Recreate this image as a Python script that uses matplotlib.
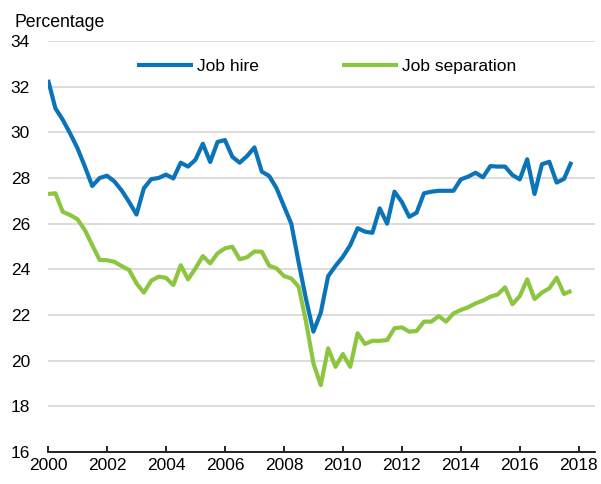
import numpy as np
import matplotlib
matplotlib.use("Agg")
import matplotlib.pyplot as plt

plt.rcParams['font.family'] = ['Liberation Sans', 'DejaVu Sans']

# Quarterly data, 2000Q1 - 2017Q4
quarters = np.arange(2000, 2018, 0.25)

job_hire = [32.3, 31.05, 30.55, 29.95, 29.3, 28.5, 27.65, 28.0, 28.1, 27.85,
            27.45, 26.95, 26.4, 27.55, 27.95, 28.0, 28.15, 27.98, 28.67, 28.5,
            28.8, 29.5, 28.7, 29.58, 29.66, 28.93, 28.67, 28.96, 29.34, 28.28,
            28.09, 27.55, 26.77, 26.0, 24.3, 22.7, 21.27, 22.1, 23.7, 24.15,
            24.55, 25.06, 25.8, 25.65, 25.6, 26.67, 26.0, 27.4, 26.95, 26.3,
            26.48, 27.33, 27.4, 27.44, 27.44, 27.44, 27.94, 28.06, 28.23, 28.03,
            28.52, 28.5, 28.5, 28.13, 27.94, 28.82, 27.3, 28.6, 28.71, 27.8,
            27.96, 28.71]

job_separation = [27.3, 27.33, 26.52, 26.38, 26.19, 25.72, 25.06, 24.41, 24.4, 24.33,
                  24.14, 23.97, 23.39, 22.98, 23.5, 23.68, 23.63, 23.31, 24.18, 23.56,
                  24.04, 24.58, 24.26, 24.7, 24.92, 24.99, 24.44, 24.53, 24.78, 24.77,
                  24.16, 24.04, 23.71, 23.6, 23.24, 21.71, 19.88, 18.93, 20.54, 19.73,
                  20.29, 19.73, 21.2, 20.73, 20.87, 20.87, 20.9, 21.42, 21.46, 21.27,
                  21.3, 21.71, 21.71, 21.95, 21.71, 22.07, 22.22, 22.34, 22.51, 22.63,
                  22.8, 22.9, 23.21, 22.47, 22.83, 23.56, 22.7, 22.98, 23.17, 23.63,
                  22.92, 23.06]

year_ticks = [2000, 2002, 2004, 2006, 2008, 2010, 2012, 2014, 2016, 2018]
y_ticks = [16, 18, 20, 22, 24, 26, 28, 30, 32, 34]

fig = plt.figure(figsize=(6.01, 4.84), dpi=100)
ax = fig.add_axes([0.0799, 0.0661, 0.9101, 0.8492])

ax.plot(quarters, job_hire, color='#0b74b8', lw=3.0, label='Job hire',
        solid_joinstyle='round', solid_capstyle='butt')
ax.plot(quarters, job_separation, color='#8cc641', lw=3.0, label='Job separation',
        solid_joinstyle='round', solid_capstyle='butt')

ax.set_xlim(2000, 2018.55)
ax.set_ylim(16, 34)
ax.set_xticks(year_ticks)
ax.set_yticks(y_ticks)
ax.grid(axis='y', color='#d9d9d9', lw=1.3)
ax.set_axisbelow(True)

for s in ['top', 'right', 'left']:
    ax.spines[s].set_visible(False)
ax.spines['bottom'].set_color('black')
ax.spines['bottom'].set_linewidth(1.2)

ax.tick_params(axis='x', direction='in', length=4.5, width=1.2, labelsize=12.5, pad=4)
ax.tick_params(axis='y', length=0, labelsize=12.5, pad=13)

ax.legend(loc='upper center', bbox_to_anchor=(0.51, 0.995), ncol=2, frameon=False,
          fontsize=12.5, handlelength=3.2, handletextpad=0.25, columnspacing=4.8)

fig.text(14 / 601, 1 - 27 / 484, 'Percentage', fontsize=12.7, ha='left', va='baseline')

fig.savefig('out.png', dpi=100)
